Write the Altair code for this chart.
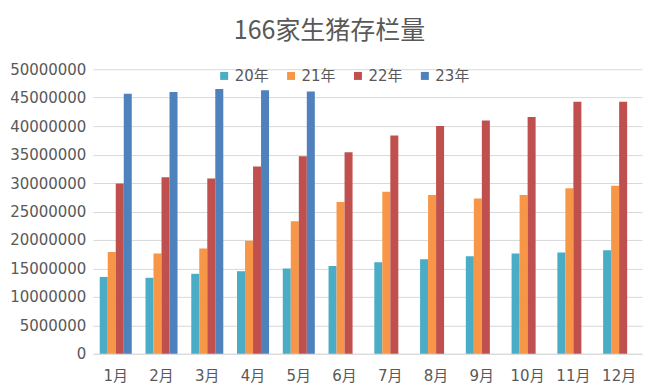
import altair as alt
import pandas as pd

months = ["1月", "2月", "3月", "4月", "5月", "6月", "7月", "8月", "9月", "10月", "11月", "12月"]
series = ["20年", "21年", "22年", "23年"]
colors = ["#4BACC6", "#F79646", "#C0504D", "#4F81BD"]

y20 = [13500000, 13350000, 14050000, 14500000, 15000000, 15400000, 16100000, 16600000, 17150000, 17600000, 17800000, 18200000]
y21 = [17900000, 17600000, 18500000, 19850000, 23300000, 26650000, 28450000, 27900000, 27300000, 27900000, 29100000, 29500000]
y22 = [29900000, 31000000, 30800000, 32900000, 34700000, 35400000, 38350000, 40000000, 41000000, 41600000, 44300000, 44300000]
y23 = [45700000, 46000000, 46500000, 46300000, 46100000]

rows = []
for name, vals in zip(series, [y20, y21, y22, y23]):
    for m, v in zip(months, vals):
        rows.append({"month": m, "series": name, "value": v})
df = pd.DataFrame(rows)

FONT = "DejaVu Sans, Noto Sans CJK SC"
GREY = "#595959"

chart = alt.Chart(df).mark_bar().encode(
    x=alt.X("month:N", sort=months, title=None,
            scale=alt.Scale(paddingInner=0.3, paddingOuter=0.15),
            axis=alt.Axis(labelAngle=0, ticks=False, domainColor="#d9d9d9",
                          labelFontSize=15, labelColor=GREY, labelPadding=15,
                          labelFont=FONT)),
    xOffset=alt.XOffset("series:N", sort=series, scale=alt.Scale(domain=series, paddingInner=0, paddingOuter=0)),
    y=alt.Y("value:Q", title=None,
            scale=alt.Scale(domain=[0, 50000000]),
            axis=alt.Axis(values=list(range(0, 50000001, 5000000)), format="d",
                          domain=False, ticks=False, gridColor="#d9d9d9",
                          labelFontSize=15, labelColor=GREY, labelPadding=7,
                          labelFont=FONT)),
    color=alt.Color("series:N", sort=series,
                    scale=alt.Scale(domain=series, range=colors),
                    legend=alt.Legend(title=None, orient="none", direction="horizontal",
                                      legendX=124, legendY=-1, symbolType="square",
                                      symbolSize=64, symbolStrokeWidth=0,
                                      labelFontSize=15, labelColor=GREY, labelFont=FONT,
                                      columnPadding=14, labelOffset=3)),
).properties(
    width=550,
    height=285,
    padding={"left": 85, "top": 61, "right": 10, "bottom": 30},
    autosize=alt.AutoSizeParams(type="none"),
    title=alt.TitleParams("166家生猪存栏量", fontSize=25, color=GREY, font="Noto Sans CJK SC",
                          fontWeight="normal", anchor="middle", dx=-38, offset=18),
).configure_view(stroke=None)

chart.save("out.html", embed_options={"renderer": "svg", "actions": False})
